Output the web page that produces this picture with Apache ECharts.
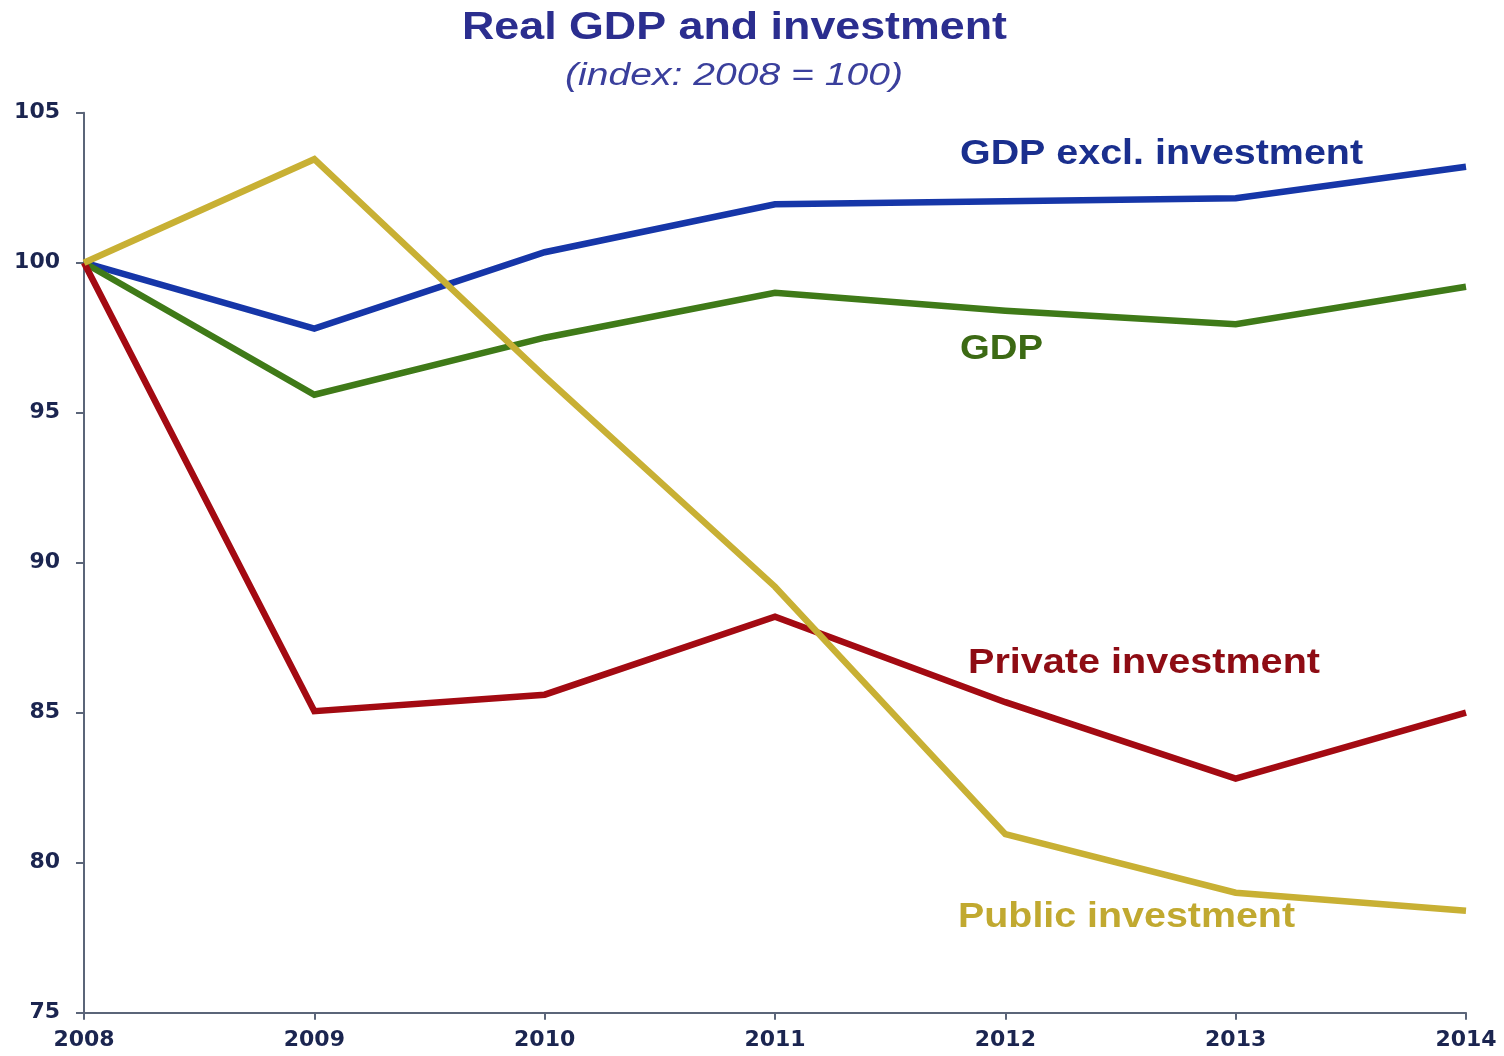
<!DOCTYPE html>
<html>
<head>
<meta charset="utf-8">
<title>Real GDP and investment</title>
<script src="https://cdn.jsdelivr.net/npm/echarts@6/dist/echarts.min.js"></script>
<style>
  html, body { margin: 0; padding: 0; background: #ffffff; }
  #chart { width: 1504px; height: 1056px; }
</style>
</head>
<body>
<div id="chart"></div>
<script>
// Index values, 2008 = 100
const years = ['2008', '2009', '2010', '2011', '2012', '2013', '2014'];
const gdpExclInvestment = [100, 97.8, 100.35, 101.95, 102.05, 102.15, 103.2];
const gdp = [100, 95.6, 97.5, 99.0, 98.4, 97.95, 99.2];
const privateInvestment = [100, 85.05, 85.6, 88.2, 85.35, 82.8, 85.0];
const publicInvestment = [100, 103.45, 96.2, 89.2, 80.95, 79.0, 78.4];

const seriesNames = ['GDP excl. investment', 'GDP', 'Private investment', 'Public investment'];
const yMin = 75, yMax = 105, yStep = 5;

const colors = {
  excl: '#1636a8',
  gdp: '#3f7a18',
  priv: '#a30a12',
  pub: '#c8b034',
  axis: '#5b6579',
  tick: '#1b2550'
};

// Wide bold Arial-style text: measure the natural width and stretch horizontally to the slot width
const measureCtx = document.createElement('canvas').getContext('2d');
function stretchedText(text, font, fill, x, y, width, align) {
  measureCtx.font = font;
  const natural = measureCtx.measureText(text).width;
  return {
    type: 'text',
    x: x,
    y: y,
    scaleX: width / natural,
    originX: 0,
    originY: 0,
    silent: true,
    style: {
      text: text,
      font: font,
      fill: fill,
      align: align || 'left',
      verticalAlign: 'middle'
    }
  };
}

const chart = echarts.init(document.getElementById('chart'), null, { renderer: 'canvas' });

const lineStyleFor = (c) => ({ color: c, width: 6.5, join: 'miter', cap: 'butt' });

chart.setOption({
  backgroundColor: '#ffffff',
  animation: false,
  grid: { left: 84, right: 38, top: 112.7, bottom: 43.3, containLabel: false },
  xAxis: {
    type: 'category',
    data: years,
    boundaryGap: false,
    axisLine: { lineStyle: { color: colors.axis, width: 2 } },
    axisTick: { show: true, inside: false, length: 7, alignWithLabel: true, lineStyle: { color: colors.axis, width: 2 } },
    axisLabel: {
      margin: 17,
      color: colors.tick,
      fontFamily: 'DejaVu Sans',
      fontWeight: 'bold',
      fontSize: 22
    },
    splitLine: { show: false }
  },
  yAxis: {
    type: 'value',
    min: yMin,
    max: yMax,
    interval: yStep,
    axisLine: { show: true, lineStyle: { color: colors.axis, width: 2 } },
    axisTick: { show: true, inside: false, length: 8, lineStyle: { color: colors.axis, width: 2 } },
    axisLabel: {
      margin: 24,
      color: colors.tick,
      fontFamily: 'DejaVu Sans',
      fontWeight: 'bold',
      fontSize: 22
    },
    splitLine: { show: false }
  },
  series: [
    { name: seriesNames[0], type: 'line', data: gdpExclInvestment, symbol: 'none', lineStyle: lineStyleFor(colors.excl), z: 2 },
    { name: seriesNames[1], type: 'line', data: gdp, symbol: 'none', lineStyle: lineStyleFor(colors.gdp), z: 2 },
    { name: seriesNames[2], type: 'line', data: privateInvestment, symbol: 'none', lineStyle: lineStyleFor(colors.priv), z: 2 },
    { name: seriesNames[3], type: 'line', data: publicInvestment, symbol: 'none', lineStyle: lineStyleFor(colors.pub), z: 3 }
  ],
  graphic: [
    stretchedText('Real GDP and investment', 'bold 38px "Liberation Sans"', '#2b2e8f', 734.5, 29, 545, 'center'),
    stretchedText('(index: 2008 = 100)', 'italic 31px "Liberation Sans"', '#3a3f9c', 734, 76, 338, 'center'),
    stretchedText(seriesNames[0], 'bold 35px "Liberation Sans"', '#1a2f8e', 960, 154, 403),
    stretchedText(seriesNames[1], 'bold 35px "Liberation Sans"', '#3c6a14', 960, 349, 83),
    stretchedText(seriesNames[2], 'bold 35px "Liberation Sans"', '#8e0c14', 968, 663, 352),
    stretchedText(seriesNames[3], 'bold 35px "Liberation Sans"', '#c1a930', 958, 917, 337)
  ]
});
</script>
</body>
</html>
